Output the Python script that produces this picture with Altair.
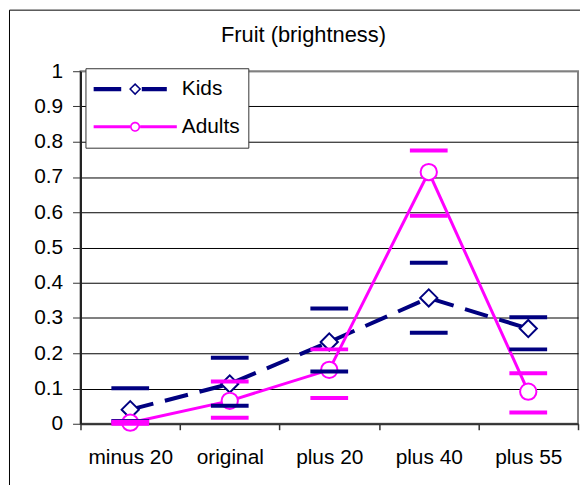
import altair as alt
import pandas as pd

# ---- data ----
categories = ["minus 20", "original", "plus 20", "plus 40", "plus 55"]
series_names = ["Kids", "Adults"]
kids_mean = [0.040, 0.113, 0.232, 0.357, 0.270]
kids_upper = [0.101, 0.187, 0.327, 0.457, 0.302]
kids_lower = [0.008, 0.051, 0.148, 0.258, 0.211]
adults_mean = [0.003, 0.065, 0.153, 0.714, 0.091]
adults_upper = [0.006, 0.120, 0.211, 0.775, 0.143]
adults_lower = [0.000, 0.017, 0.073, 0.590, 0.032]
y_ticks = [0, 0.1, 0.2, 0.3, 0.4, 0.5, 0.6, 0.7, 0.8, 0.9, 1]
title_text = "Fruit (brightness)"

NAVY = "#000080"
MAGENTA = "#FF00FF"
colors = [NAVY, MAGENTA]
FONT = "Liberation Sans"
W, H = 501, 355

rows = []
for name, m, u, l in [("Kids", kids_mean, kids_upper, kids_lower),
                      ("Adults", adults_mean, adults_upper, adults_lower)]:
    for c, mv, uv, lv in zip(categories, m, u, l):
        rows.append({"category": c, "series": name, "mean": mv, "upper": uv, "lower": lv})
df = pd.DataFrame(rows)

# legend symbols: line + hollow marker drawn as filled path (unit = half symbol width)
kids_path = ("M-1,-0.05H-0.333V0.05H-1Z "
             "M0,-0.145L0.145,0L0,0.145L-0.145,0Z M0,-0.095L-0.095,0L0,0.095L0.095,0Z "
             "M0.16,-0.05H0.76V0.05H0.16Z")
adults_path = ("M-1,-0.036H-0.12V0.036H-1Z M0.12,-0.036H1V0.036H0.12Z "
               "M0.12,0A0.12,0.12 0 1,1 -0.12,0A0.12,0.12 0 1,1 0.12,0Z "
               "M0.083,0A0.083,0.083 0 1,0 -0.083,0A0.083,0.083 0 1,0 0.083,0Z")

x_enc = alt.X(
    "category:N", sort=categories,
    scale=alt.Scale(type="band", domain=categories, paddingInner=0, paddingOuter=0),
    axis=alt.Axis(title=None, labelAngle=0, tickBand="extent", tickSize=6, tickColor="#333",
                  tickWidth=1.5, domainColor="#333", domainWidth=2, labelPadding=17,
                  labelFont=FONT, labelFontSize=21, labelColor="black", grid=False),
)


def y_enc(field):
    return alt.Y(
        f"{field}:Q",
        scale=alt.Scale(domain=[0, 1], nice=False, zero=False),
        axis=alt.Axis(title=None, values=y_ticks, format="~g", tickSize=8, tickColor="#333",
                      tickWidth=1, domainColor="#222", domainWidth=2, labelPadding=10,
                      labelFont=FONT, labelFontSize=21, labelColor="black",
                      grid=True,
                      gridColor={"condition": {"test": "datum.value >= 1", "value": "#808080"},
                                 "value": "black"},
                      gridWidth=1),
    )


base = alt.Chart(df)
kids = base.transform_filter(alt.datum.series == "Kids")
adults = base.transform_filter(alt.datum.series == "Adults")

border = alt.Chart(pd.DataFrame({"k": [0]})).mark_rect(
    fillOpacity=0, stroke="black", strokeWidth=1
).encode(x=alt.value(-71.5), x2=alt.value(W + 100), y=alt.value(-61.5), y2=alt.value(H + 200))

kids_line = kids.mark_line(color=NAVY, strokeWidth=4, strokeDash=[24, 12]).encode(
    x=x_enc, y=y_enc("mean"))
kids_pts = kids.mark_point(shape="diamond", size=300, filled=True, fill="white", stroke=NAVY,
                           strokeWidth=2, opacity=1).encode(x=x_enc, y=y_enc("mean"))
adults_line = adults.mark_line(color=MAGENTA, strokeWidth=3).encode(x=x_enc, y=y_enc("mean"))
adults_pts = adults.mark_point(shape="circle", size=270, filled=True, fill="white",
                               stroke=MAGENTA, strokeWidth=2, opacity=1).encode(
    x=x_enc, y=y_enc("mean"))
kids_caps = kids.transform_fold(["upper", "lower"], as_=["bound", "value"]).mark_tick(
    color=NAVY, thickness=4, size=38, opacity=1).encode(x=x_enc, y=y_enc("value"))
adults_caps = adults.transform_fold(["upper", "lower"], as_=["bound", "value"]).mark_tick(
    color=MAGENTA, thickness=4, size=38, opacity=1).encode(x=x_enc, y=y_enc("value"))

leg = alt.Legend(title=None, orient="none", legendX=5, legendY=-3, fillColor="white",
                 strokeColor="#333", padding=8, symbolSize=7056, symbolStrokeWidth=0,
                 symbolOpacity=1, clipHeight=26, rowPadding=12, labelOffset=5,
                 labelFont=FONT, labelFontSize=21, labelColor="black",
                 labelExpr="datum.label + ' '")

legend_layer = base.mark_point(filled=True, opacity=0).encode(
    x=x_enc, y=y_enc("mean"),
    color=alt.Color("series:N", scale=alt.Scale(domain=series_names, range=colors), legend=leg),
    shape=alt.Shape("series:N", scale=alt.Scale(domain=series_names,
                                                range=[kids_path, adults_path]), legend=leg),
)

chart = alt.layer(
    border, kids_line, kids_pts, adults_line, adults_pts, kids_caps, adults_caps, legend_layer
).properties(
    width=W, height=H,
    title=alt.TitleParams(title_text, font=FONT, fontSize=22, fontWeight="normal",
                          color="black", anchor="middle", dx=-26, dy=50, offset=12),
    padding={"left": 73, "top": 62, "right": 2, "bottom": 60},
    autosize=alt.AutoSizeParams(type="none"),
).configure(
    font=FONT
).configure_view(
    stroke="#808080", strokeWidth=2
)

chart.save("out.html", embed_options={"renderer": "svg", "actions": False})
